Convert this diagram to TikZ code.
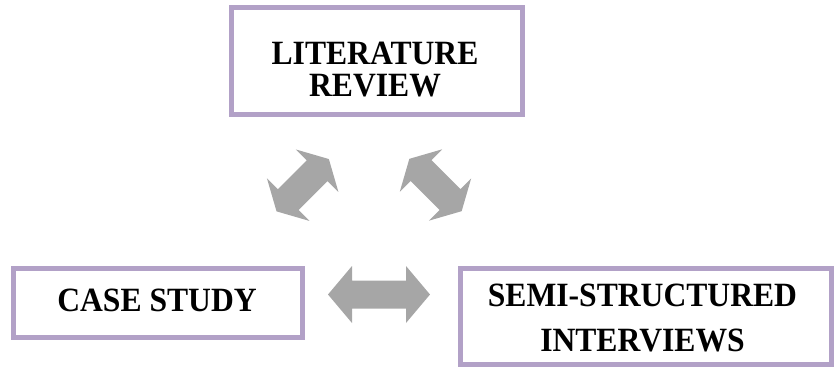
\documentclass[tikz,border=0pt]{standalone}
\usepackage{fontspec}
\setmainfont{Liberation Serif}[FakeStretch=0.93]
\definecolor{framepurple}{RGB}{178,161,199}
\definecolor{arrowgray}{RGB}{166,166,166}
\begin{document}
\begin{tikzpicture}[x=1pt,y=-1pt,
  boxframe/.style={draw=framepurple, line width=5pt, fill=white, inner sep=0pt, rectangle},
  boxtext/.style={font=\fontsize{34}{#1}\selectfont\bfseries, align=center, inner sep=0pt},
  pics/dblarrow/.style args={#1/#2/#3/#4}{code={
    % #1 half length, #2 head length, #3 head half width, #4 shaft half width
    \pgfmathsetmacro{\hb}{#1-#2}
    \fill[arrowgray] (-#1,0) -- (-\hb,#3) -- (-\hb,#4) -- (\hb,#4) -- (\hb,#3) -- (#1,0)
      -- (\hb,-#3) -- (\hb,-#4) -- (-\hb,-#4) -- (-\hb,-#3) -- cycle;
  }}]
\useasboundingbox (0,0) rectangle (839,368);

% the three method boxes
\node[boxframe, minimum width=291pt, minimum height=107pt] (lit)  at (377,61)    {};
\node[boxframe, minimum width=289pt, minimum height=69pt]  (case) at (158,303)   {};
\node[boxframe, minimum width=371pt, minimum height=96pt]  (semi) at (646,316.5) {};

\node[boxtext=32pt] (littext)  at (375,69.5)    {LITERATURE\\REVIEW};
\node[boxtext=40pt] (casetext) at (157,300.5)   {CASE STUDY};
\node[boxtext=45pt] (semitext) at (642.5,317.5) {SEMI-STRUCTURED\\INTERVIEWS};

% two-way block arrows between the boxes
\pic[rotate=45]  at (302.7,185.2) {dblarrow=37/16.5/30/14.7};
\pic[rotate=-45] at (435.5,185)   {dblarrow=37/16.5/30/14.7};
\pic             at (379,294.5)   {dblarrow=51/24/28.5/14};
\end{tikzpicture}
\end{document}
